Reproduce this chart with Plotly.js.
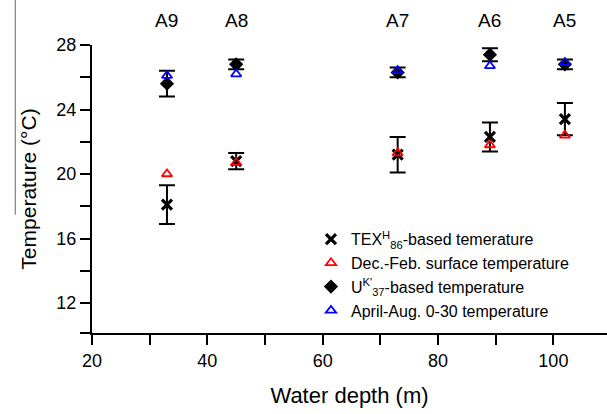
<!DOCTYPE html>
<html>
<head>
<meta charset="utf-8">
<script src="https://cdn.plot.ly/plotly-3.0.1.min.js"></script>
<style>html,body{margin:0;padding:0;background:#fff;}#chart{width:607px;height:414px;}</style>
</head>
<body>
<div id="chart"></div>
<script>
// Water depth (m) of each site
const sites = ["A9", "A8", "A7", "A6", "A5"];
const depth = [33, 45, 73, 89, 102];
// TEX86H-based temperature and its error
const texTemp = [18.1, 20.8, 21.2, 22.3, 23.4];
const texErr = [1.2, 0.5, 1.1, 0.9, 1.0];
// Dec.-Feb. surface temperature
const winterTemp = [20.0, 20.7, 21.3, 21.8, 22.4];
// UK'37-based temperature and its error
const ukTemp = [25.6, 26.8, 26.3, 27.4, 26.8];
const ukErr = [0.8, 0.3, 0.3, 0.4, 0.3];
// April-Aug. 0-30 m temperature
const summerTemp = [26.1, 26.2, 26.4, 26.7, 26.9];

const yTickVals = [12, 14, 16, 18, 20, 22, 24, 26, 28];
const yTickText = ["12", "", "16", "", "20", "", "24", "", "28"];
const xTickVals = [20, 30, 40, 50, 60, 70, 80, 90, 100];
const xTickText = ["20", "", "40", "", "60", "", "80", "", "100"];

const font = "Liberation Sans, Arial, sans-serif";

const traces = [
  {
    x: depth, y: texTemp, type: "scatter", mode: "markers",
    name: "TEX<sup>H</sup><sub>86</sub>-based temerature",
    marker: {symbol: "x-thin", size: 10, color: "#000", line: {width: 3.2, color: "#000"}},
    error_y: {type: "data", array: texErr, visible: true, color: "#000", thickness: 2, width: 8}
  },
  {
    x: depth, y: winterTemp, type: "scatter", mode: "markers",
    name: "Dec.-Feb. surface temperature",
    marker: {symbol: "triangle-up-open", size: 9, color: "#ff0000", line: {width: 1.8, color: "#ff0000"}}
  },
  {
    x: depth, y: ukTemp, type: "scatter", mode: "markers",
    name: "U<sup>K'</sup><sub>37</sub>-based temperature",
    marker: {symbol: "diamond", size: 11, color: "#000"},
    error_y: {type: "data", array: ukErr, visible: true, color: "#000", thickness: 2, width: 8}
  },
  {
    x: depth, y: summerTemp, type: "scatter", mode: "markers",
    name: "April-Aug. 0-30 temperature",
    marker: {symbol: "triangle-up-open", size: 9, color: "#0000ff", line: {width: 1.8, color: "#0000ff"}}
  }
];

const annotations = sites.map((s, i) => ({
  x: depth[i], y: 1, xref: "x", yref: "paper", yanchor: "bottom", yshift: 12,
  text: s, showarrow: false, font: {family: font, size: 19, color: "#000"}
}));

const layout = {
  width: 607, height: 414,
  margin: {l: 92, r: 0, t: 45, b: 81},
  paper_bgcolor: "#fff", plot_bgcolor: "#fff",
  font: {family: font, color: "#000"},
  showlegend: true,
  legend: {
    x: 0.4252, y: 0.385, xanchor: "left", yanchor: "top",
    font: {family: font, size: 16, color: "#000"},
    bgcolor: "rgba(0,0,0,0)", tracegroupgap: 0, itemwidth: 30
  },
  xaxis: {
    range: [20, 109.3], showgrid: false, zeroline: false,
    showline: true, linecolor: "#000", linewidth: 2,
    ticks: "outside", ticklen: 10, tickwidth: 2, tickcolor: "#000",
    tickvals: xTickVals, ticktext: xTickText,
    tickfont: {family: font, size: 18, color: "#000"},
    title: {text: "Water depth (m)", font: {family: font, size: 22, color: "#000"}, standoff: 18}
  },
  yaxis: {
    range: [10.14, 28], showgrid: false, zeroline: false,
    showline: true, linecolor: "#000", linewidth: 2,
    ticks: "outside", ticklen: 10, tickwidth: 2, tickcolor: "#000",
    tickvals: yTickVals, ticktext: yTickText,
    tickfont: {family: font, size: 18, color: "#000"},
    title: {text: "Temperature (°C)", font: {family: font, size: 21, color: "#000"}, standoff: 14}
  },
  annotations: annotations,
  shapes: [
    {type: "line", xref: "paper", yref: "paper", x0: -0.149, x1: -0.149, y0: 1.157, y1: 0.411,
     line: {color: "#666", width: 1}},
    {type: "line", xref: "paper", yref: "paper", x0: -0.0233, x1: 0, y0: 0, y1: 0,
     line: {color: "#000", width: 2}}
  ]
};

Plotly.newPlot("chart", traces, layout, {displayModeBar: false, staticPlot: true});
</script>
</body>
</html>
